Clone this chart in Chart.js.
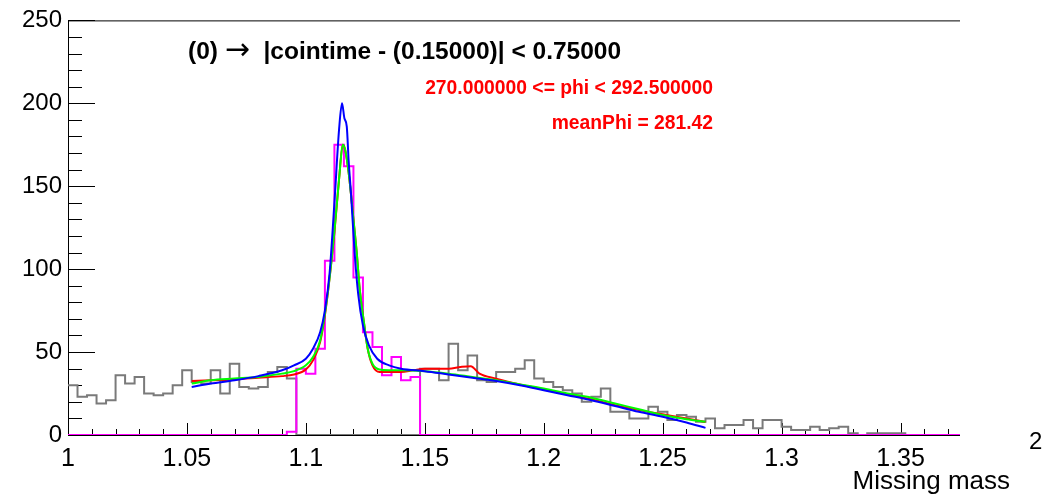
<!DOCTYPE html>
<html>
<head>
<meta charset="utf-8">
<script src="https://cdn.jsdelivr.net/npm/chart.js@4.4.1/dist/chart.umd.min.js"></script>
<style>
  html, body { margin: 0; padding: 0; background: #ffffff; }
  #wrap { position: relative; width: 1054px; height: 497px; }
</style>
</head>
<body>
<div id="wrap"><canvas id="c" width="1054" height="497"></canvas></div>
<script>
// ---------- data ----------
const binStart = 1.0;
const binWidth = 0.004;

// gray histogram (sidebands), 94 bins from 1.000
const grayCounts = [30,23,24,19,21,36,31,35,25,24,25,30,39,32,31,39,25,43,29,28,29,38,41,34,
  0,0,0,0,0,0,0,0,0,0,0,0,0,
  40,40,33,55,39,48,33,32,38,38,40,45,34,32,29,27,25,20,23,28,14,14,10,10,17,14,9,12,11,8,
  10,4,6,6,9,4,9,9,5,3,3,5,3,4,5,1,0,1,1,1,1,0,0,0,0,0,0];

// magenta histogram (peak window), 94 bins from 1.000
const peakCounts = [0,0,0,0,0,0,0,0,0,0,0,0,0,0,0,0,0,0,0,0,0,0,0,2,
  40,37,52,105,175,162,95,62,53,36,47,33,35,
  0,0,0,0,0,0,0,0,0,0,0,0,0,0,0,0,0,0,0,0,0,0,0,0,0,0,0,0,0,0,0,0,0,0,0,0,0,0,0,0,0,0,0,0,0,0,0,0,0,0,0,0,0,0,0,0,0];

// fit curves
const redX   = [1.052,1.06,1.07,1.08,1.09,1.095,1.1,1.103,1.106,1.108,1.11,1.112,1.114,1.1155,1.1165,1.118,1.12,1.1215,1.1225,1.1245,1.126,1.128,1.131,1.14,1.145,1.15,1.16,1.165,1.1693,1.173,1.18,1.19,1.2,1.21,1.22,1.23,1.24,1.25,1.26,1.268];
const redY   = [32.5,33,33.5,34.5,35.5,36.5,39.5,45,56,72,95,122,155,175,172,158,130,108,90,67,52,42,38,38,39,40,40,41,41.5,37,34,30.5,27.5,24.5,21.5,18,15,12.5,10,7.8];
const greenX = [1.052,1.06,1.07,1.08,1.09,1.095,1.1,1.103,1.106,1.108,1.11,1.112,1.114,1.1155,1.1165,1.118,1.12,1.1215,1.1225,1.1245,1.126,1.128,1.131,1.135,1.14,1.15,1.16,1.17,1.18,1.19,1.2,1.21,1.22,1.23,1.24,1.25,1.26,1.268];
const greenY = [31,33,34,35,37,38.5,42,47,57,73,95,123,155,175,172,158,130,108,90,67,52,43,39.5,39,39,38.5,37,35,33,30.5,28,25,22.5,19,15.5,12,9.5,8];
const blueX  = [1.052,1.06,1.07,1.08,1.09,1.095,1.1,1.103,1.106,1.108,1.11,1.112,1.114,1.1152,1.1162,1.1172,1.118,1.119,1.1205,1.122,1.124,1.1265,1.13,1.135,1.14,1.15,1.16,1.17,1.18,1.19,1.2,1.21,1.22,1.23,1.24,1.25,1.26,1.268];
const blueY  = [29,31,33,35.5,39,42,46,52,62,75,98,140,185,200,191,186,165,145,110,85,66,54,46,42,40,38.5,36.5,34.5,32.5,30,27,24,21,17.5,14,11,7.5,4.3];

// axis ticks
const xMajorTicks = [1, 1.05, 1.1, 1.15, 1.2, 1.25, 1.3, 1.35];
const yMajorTicks = [0, 50, 100, 150, 200, 250];

// texts
const titleParts = ["(0) ", "\u2192", "  |cointime - (0.15000)| < 0.75000"];
const phiText = "270.000000 <= phi < 292.500000";
const meanText = "meanPhi = 281.42";
const xAxisTitle = "Missing mass";
const cornerText = "2";

// ---------- build ----------
function histPoints(counts) {
  const pts = counts.map((v, i) => ({ x: binStart + binWidth * i, y: v }));
  pts.push({ x: binStart + binWidth * counts.length, y: counts[counts.length - 1] });
  return pts;
}
function curvePoints(xs, ys) { return xs.map((x, i) => ({ x, y: ys[i] })); }

const xMinorTicks = [];
for (let i = 0; i <= 37; i++) xMinorTicks.push(1 + i * 0.01);
const yMinorTicks = [];
for (let i = 0; i <= 25; i++) yMinorTicks.push(i * 10);

const FONT = '"Liberation Sans", Arial, Helvetica, sans-serif';

const deco = {
  id: 'deco',
  beforeDatasetsDraw(chart) {
    const { ctx, chartArea: a, scales: { x, y } } = chart;
    ctx.save();
    ctx.strokeStyle = '#000';
    ctx.lineWidth = 1;
    ctx.beginPath();
    ctx.moveTo(a.left + 0.5, a.top); ctx.lineTo(a.left + 0.5, a.bottom + 1);
    ctx.moveTo(a.left, a.bottom + 0.5); ctx.lineTo(a.right, a.bottom + 0.5);
    ctx.moveTo(a.left, a.top + 0.5); ctx.lineTo(a.right, a.top + 0.5);
    xMinorTicks.forEach(v => {
      const px = Math.round(x.getPixelForValue(v)) + 0.5;
      const major = xMajorTicks.some(t => Math.abs(t - v) < 1e-6);
      ctx.moveTo(px, a.bottom);
      ctx.lineTo(px, a.bottom - (major ? 12 : 6));
    });
    yMinorTicks.forEach(v => {
      const py = Math.round(y.getPixelForValue(v)) + 0.5;
      const major = yMajorTicks.includes(v);
      ctx.moveTo(a.left, py);
      ctx.lineTo(a.left + (major ? 27 : 14), py);
    });
    ctx.stroke();
    ctx.restore();
  },
  afterDraw(chart) {
    const { ctx } = chart;
    ctx.save();
    ctx.textBaseline = 'alphabetic';
    ctx.textAlign = 'left';
    ctx.fillStyle = '#000';
    // title, arrow drawn in a font with a long thin arrow glyph
    let tx = 188;
    const fonts = ['bold 24.5px ' + FONT, '30px "DejaVu Sans", sans-serif', 'bold 24.5px ' + FONT];
    titleParts.forEach((t, i) => {
      ctx.font = fonts[i];
      ctx.fillText(t, tx, 59);
      tx += ctx.measureText(t).width;
    });
    ctx.fillStyle = '#ff0000';
    ctx.font = 'bold 19.3px ' + FONT;
    ctx.textAlign = 'right';
    ctx.fillText(phiText, 713, 94);
    ctx.fillText(meanText, 713, 129);
    ctx.fillStyle = '#000';
    ctx.font = '26px ' + FONT;
    ctx.textAlign = 'right';
    ctx.fillText(xAxisTitle, 1010, 489);
    ctx.font = '24px ' + FONT;
    ctx.textAlign = 'left';
    ctx.fillText(cornerText, 1029, 449);
    ctx.restore();
  }
};

new Chart(document.getElementById('c'), {
  type: 'line',
  data: {
    datasets: [
      { data: curvePoints(blueX, blueY), borderColor: '#0000ff', borderWidth: 2, pointRadius: 0, fill: false, cubicInterpolationMode: 'monotone' },
      { data: curvePoints(greenX, greenY), borderColor: '#00ff00', borderWidth: 2, pointRadius: 0, fill: false, cubicInterpolationMode: 'monotone' },
      { data: curvePoints(redX, redY), borderColor: '#ff0000', borderWidth: 2, pointRadius: 0, fill: false, cubicInterpolationMode: 'monotone' },
      { data: histPoints(peakCounts), borderColor: '#ff00ff', borderWidth: 2, pointRadius: 0, fill: false, stepped: true },
      { data: histPoints(grayCounts), borderColor: '#7a7a7a', borderWidth: 2, pointRadius: 0, fill: false, stepped: true }
    ]
  },
  options: {
    responsive: false,
    animation: false,
    events: [],
    layout: { padding: { top: 17, right: 94, left: 0, bottom: 0 } },
    plugins: { legend: { display: false }, tooltip: { enabled: false }, title: { display: false } },
    scales: {
      x: {
        type: 'linear', min: 1, max: 1.375,
        grid: { display: false, drawTicks: false },
        border: { display: false },
        afterFit: s => { s.height = 62; },
        ticks: {
          stepSize: 0.05, includeBounds: false, autoSkip: false, maxRotation: 0, padding: 9,
          color: '#000', font: { family: FONT, size: 25 },
          callback: v => String(Math.round(v * 100) / 100)
        }
      },
      y: {
        type: 'linear', min: 0, max: 250,
        grid: { display: false, drawTicks: false },
        border: { display: false },
        afterFit: s => { s.width = 68; },
        ticks: {
          stepSize: 50, autoSkip: false, padding: 6,
          color: '#000', font: { family: FONT, size: 24 },
          callback: v => String(v)
        }
      }
    }
  },
  plugins: [deco]
});
</script>
</body>
</html>
